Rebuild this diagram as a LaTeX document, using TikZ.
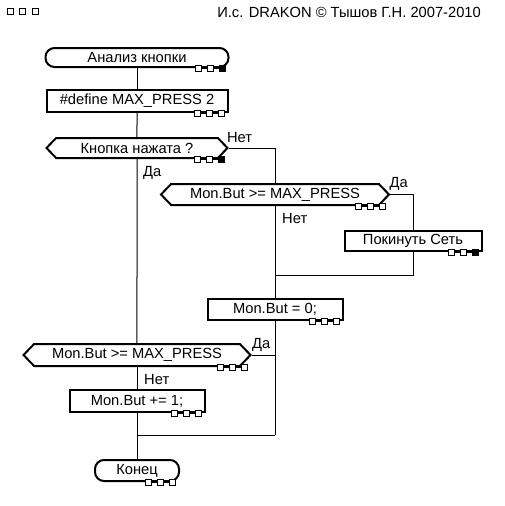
\documentclass[tikz,border=0pt]{standalone}
\usepackage{fontspec}
\setmainfont{Liberation Sans}
\usetikzlibrary{shapes.symbols, calc}

\begin{document}
\begin{tikzpicture}[x=1pt, y=-1pt,
		font=\fontsize{14.7}{17}\selectfont,
		term/.style={draw, line width=2pt, inner sep=0pt, rounded corners=9pt},
		act/.style={draw, line width=2pt, inner sep=0pt},
		quest/.style={draw, line width=2pt, inner sep=0pt, signal, signal to=west and east, signal pointer angle=92},
		port/.style={draw, fill=white, line width=1pt, inner sep=0pt, minimum size=6pt},
		lbl/.style={anchor=base west, inner sep=0pt},
		line/.style={line width=1pt}]
			\useasboundingbox (0,0) rectangle (505,506);

			% Define nodes
			\node[term, minimum width=183pt, minimum height=19pt] (start) at (137,57.5) {Анализ кнопки};
			\node[act, minimum width=181pt, minimum height=22pt] (define) at (137,101) {\#define MAX\_PRESS 2};
			\node[quest, minimum width=181pt, minimum height=20pt] (q1) at (137,148) {Кнопка нажата ?};
			\node[quest, minimum width=228pt, minimum height=21pt] (q2) at (275,194.5) {Mon.But >= MAX\_PRESS};
			\node[act, minimum width=137pt, minimum height=20pt] (leave) at (413,241) {Покинуть Сеть};
			\node[act, minimum width=135pt, minimum height=21pt] (zero) at (275,309.5) {Mon.But = 0;};
			\node[quest, minimum width=227pt, minimum height=22pt] (q3) at (137,355) {Mon.But >= MAX\_PRESS};
			\node[act, minimum width=135pt, minimum height=22pt] (inc) at (137,401) {Mon.But += 1;};
			\node[term, minimum width=84pt, minimum height=21pt] (finish) at (137,470.5) {Конец};

			\node[anchor=base east, inner sep=0pt] (title) at (481,17) {И.с. DRAKON © Тышов Г.Н. 2007-2010};
			\foreach \i/\x in {1/10, 2/22.5, 3/35}
				\node[port, fill=none] (win\i) at (\x,11) {};

			\coordinate (j1) at (275,275);
			\coordinate (j2) at (275,435);

			% Draw connectors
			\draw[line] (start) -- (define);
			\draw[line] (define) -- (q1);
			\draw[line] (q1) -- (q3);
			\draw[line] (q1.east) -| (q2.north);
			\draw[line] (q2.south) -- (zero.north);
			\draw[line] (q2.east) -| (leave.north);
			\draw[line] (leave.south) |- (j1);
			\draw[line] (zero.south) -- (j2);
			\draw[line] (q3.east) -- (q3.east -| j2);
			\draw[line] (q3.south) -- (inc.north);
			\draw[line] (inc.south) -- (finish.north);
			\draw[line] (finish.north |- j2) -- (j2);

			% Branch labels
			\node[lbl] (q1no) at ($(q1.east)+(-2,-6)$) {Нет};
			\node[lbl] (q1yes) at ($(q1.south)+(6,17)$) {Да};
			\node[lbl] (q2yes) at ($(q2.east)+(-1,-7)$) {Да};
			\node[lbl] (q2no) at ($(q2.south)+(7,17)$) {Нет};
			\node[lbl] (q3yes) at ($(q3.east)+(0,-7)$) {Да};
			\node[lbl] (q3no) at ($(q3.south)+(7,17)$) {Нет};

			% Port squares
			\foreach \n/\f in {start/black, define/white, q1/black, q2/white, leave/black, zero/white, q3/white, inc/white, finish/white} {
				\coordinate (\n-c) at ($(\n.east |- \n.south)+(-2,0)$);
				\node[port] (\n-p1) at ($(\n-c)+(-29.5,0)$) {};
				\node[port] (\n-p2) at ($(\n-c)+(-17.5,0)$) {};
				\node[port, fill=\f] (\n-p3) at ($(\n-c)+(-5.5,0)$) {};
				\draw[line] (\n-p1) -- (\n-p2) -- (\n-p3);
			}

		\end{tikzpicture}
\end{document}
